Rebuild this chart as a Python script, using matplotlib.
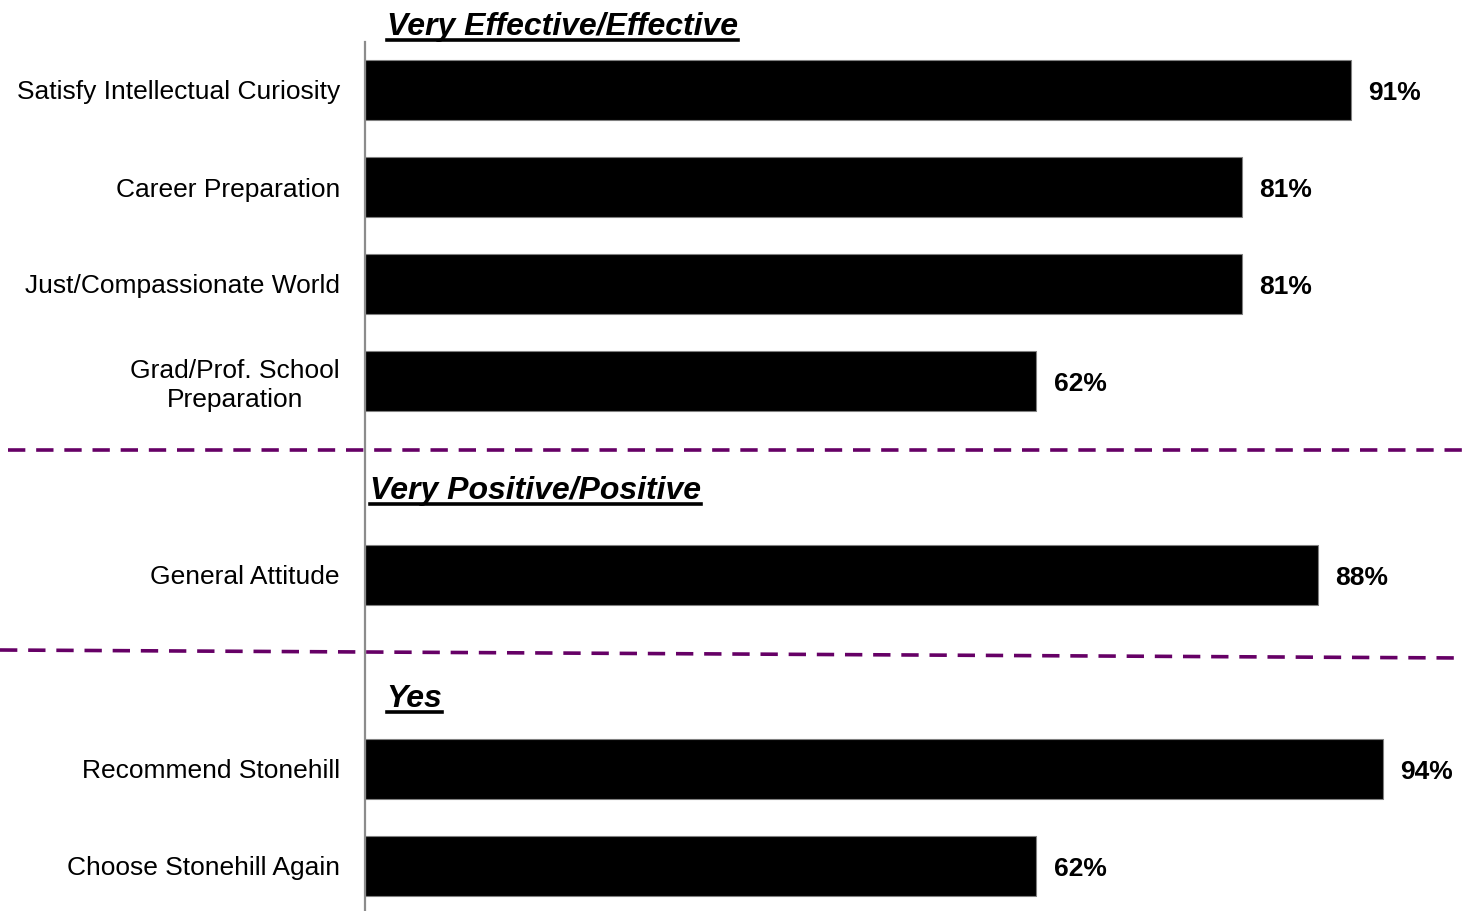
import matplotlib
matplotlib.use('Agg')
import matplotlib.pyplot as plt
from matplotlib.lines import Line2D

plt.rcParams['font.family'] = ['Liberation Sans', 'DejaVu Sans']

# ── Data ──────────────────────────────────────────────────────────────────────
LABELS    = ['Satisfy Intellectual Curiosity', 'Career Preparation', 'Just/Compassionate World',
             'Grad/Prof. School\nPreparation', 'General Attitude',
             'Recommend Stonehill', 'Choose Stonehill Again']
VALUES    = [91, 81, 81, 62, 88, 94, 62]
SLOTS     = [0, 1, 2, 3, 5, 7, 8]          # row slot for each bar (gaps hold section titles)
SECTIONS  = ['Very Effective/Effective', 'Very Positive/Positive', 'Yes']
SEC_SLOTS = [-0.65, 4.13, 6.28]
SEC_X     = [2.0, 0.5, 2.0]

W, H = 1463, 911
fig = plt.figure(figsize=(W / 100, H / 100), dpi=100)
fig.patch.set_facecolor('white')

# axes: x 0..100 spans px 365..1448, top at px 42, bottom at figure bottom
ax = fig.add_axes([365 / W, 0, (1448 - 365) / W, (911 - 42) / H])
ax.set_xlim(0, 100)
ax.set_ylim((911 - 90) / 97, (42 - 90) / 97)

ax.barh(SLOTS, VALUES, height=0.61, color='black', edgecolor='#808080', linewidth=0.8)
for s, v in zip(SLOTS, VALUES):
    ax.text(v + 1.6, s + 0.03, f'{v}%', va='center', ha='left', fontsize=19,
            fontweight='bold', clip_on=False)

ax.set_yticks(SLOTS)
ax.set_yticklabels(LABELS, fontsize=19, ha='right', multialignment='center', linespacing=1.25)
ax.tick_params(axis='y', length=0, pad=18)
ax.set_xticks([])
for side in ['top', 'right', 'bottom']:
    ax.spines[side].set_visible(False)
ax.spines['left'].set_color('#8c8c8c')
ax.spines['left'].set_linewidth(1.6)

titles = []
for name, s, x in zip(SECTIONS, SEC_SLOTS, SEC_X):
    t = ax.text(x, s, name, fontsize=23, fontweight='bold', fontstyle='italic',
                ha='left', va='center', clip_on=False)
    titles.append(t)

# dashed purple separators (figure pixel coords, origin top-left)
def fig_line(x0, y0, x1, y1):
    fig.add_artist(Line2D([x0 / W, x1 / W], [1 - y0 / H, 1 - y1 / H], color='#660066',
                          linewidth=2.6, linestyle=(0, (4.8, 3.0)), transform=fig.transFigure))

fig_line(8, 450, W, 450)
fig_line(0, 650, W, 658)

# underline section titles
fig.canvas.draw()
r = fig.canvas.get_renderer()
for t in titles:
    bb = t.get_window_extent(r)
    y = bb.y0 + 2
    fig.add_artist(Line2D([bb.x0 / W, bb.x1 / W], [y / H, y / H], color='black',
                          linewidth=2.6, transform=fig.transFigure))

fig.savefig('out.png', dpi=100, facecolor='white')
